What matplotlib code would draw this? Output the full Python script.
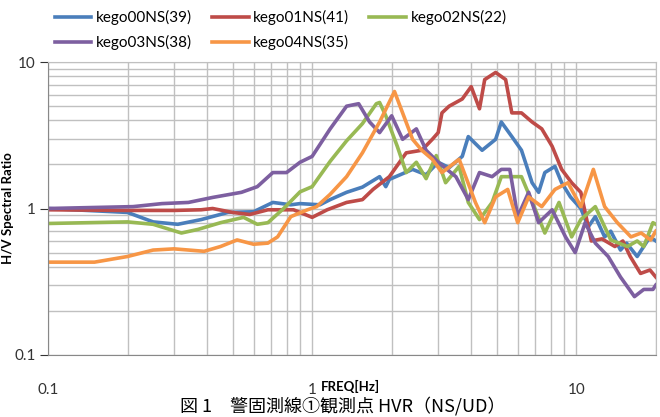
import numpy as np
import matplotlib
matplotlib.use("Agg")
import matplotlib.pyplot as plt
from matplotlib.ticker import LogLocator, NullFormatter, FixedLocator

plt.rcParams['font.family'] = ['Lato', 'DejaVu Sans', 'Noto Sans CJK JP']

f00 = [0.1, 0.2, 0.25, 0.31, 0.38, 0.48, 0.6, 0.71, 0.83, 0.9, 1.07, 1.17, 1.35, 1.55, 1.8, 1.9, 1.96,
       2.4, 2.7, 3.0, 3.3, 3.7, 3.9, 4.4, 4.95, 5.2, 5.7, 6.2, 6.8, 7.2, 7.6, 8.3, 8.8, 9.5, 10.4,
       11.1, 11.8, 12.8, 13.5, 14.7, 15.5, 17.0, 18.0, 19.0, 20.0]
v00 = [1.0, 0.94, 0.81, 0.78, 0.84, 0.94, 0.95, 1.1, 1.06, 1.08, 1.06, 1.15, 1.29, 1.4, 1.65, 1.41, 1.58,
       1.85, 1.7, 2.07, 1.9, 2.27, 3.1, 2.5, 2.97, 3.9, 3.1, 2.5, 1.5, 1.29, 1.76, 1.94, 1.5, 1.2, 1.0,
       0.75, 0.88, 0.64, 0.7, 0.52, 0.58, 0.47, 0.55, 0.64, 0.6]

f01 = [0.1, 0.2, 0.3, 0.38, 0.42, 0.5, 0.58, 0.68, 0.85, 1.0, 1.14, 1.35, 1.55, 1.7, 1.96, 2.27,
       2.6, 2.85, 3.0, 3.1, 3.3, 3.7, 4.0, 4.3, 4.5, 4.95, 5.4, 5.7, 6.2, 6.8, 7.4, 8.1, 8.8, 9.6,
       10.4, 11.4, 12.5, 14.0, 15.0, 16.0, 17.5, 19.0, 20.0]
v01 = [0.98, 0.97, 0.97, 0.98, 1.0, 0.94, 0.91, 0.98, 0.98, 0.87, 0.98, 1.1, 1.15, 1.35, 1.65, 2.4,
       2.5, 2.97, 3.3, 4.5, 5.0, 5.6, 6.8, 4.8, 7.6, 8.5, 7.6, 4.5, 4.5, 3.9, 3.5, 2.66, 1.85, 1.5,
       1.29, 0.6, 0.62, 0.55, 0.6, 0.47, 0.36, 0.38, 0.34]

f02 = [0.1, 0.2, 0.25, 0.32, 0.37, 0.45, 0.55, 0.62, 0.68, 0.78, 0.9, 1.0, 1.17, 1.35, 1.55, 1.75,
       1.8, 1.9, 2.1, 2.27, 2.48, 2.7, 2.95, 3.2, 3.6, 3.9, 4.3, 4.8, 5.2, 5.7, 6.2, 7.0, 7.6, 8.6,
       9.6, 10.4, 11.8, 13.5, 15.6, 17.0, 18.0, 19.5, 20.0]
v02 = [0.79, 0.81, 0.78, 0.68, 0.72, 0.8, 0.87, 0.78, 0.8, 1.0, 1.3, 1.41, 2.1, 2.9, 3.8, 5.2,
       5.3, 4.3, 2.66, 1.76, 2.07, 1.6, 2.3, 1.5, 1.94, 1.1, 0.84, 1.1, 1.65, 1.65, 1.65, 0.98, 0.68, 1.1,
       0.64, 0.84, 1.03, 0.61, 0.55, 0.6, 0.55, 0.8, 0.78]

f03 = [0.1, 0.21, 0.27, 0.34, 0.42, 0.54, 0.62, 0.71, 0.8, 0.9, 1.0, 1.17, 1.35, 1.5, 1.65, 1.8,
       2.0, 2.2, 2.48, 2.7, 3.0, 3.5, 3.9, 4.3, 4.8, 5.2, 5.6, 6.0, 6.6, 7.2, 8.1, 9.1, 9.9, 10.8,
       11.8, 13.2, 14.7, 16.6, 18.0, 19.5, 20.0]
v03 = [1.0, 1.03, 1.08, 1.1, 1.19, 1.29, 1.41, 1.76, 1.76, 2.07, 2.27, 3.5, 5.0, 5.2, 3.9, 3.3,
       4.3, 2.97, 3.5, 2.5, 2.07, 1.65, 1.15, 1.76, 1.65, 1.85, 1.85, 0.88, 1.29, 0.8, 0.98, 0.64, 0.5, 0.8,
       0.58, 0.47, 0.34, 0.25, 0.28, 0.28, 0.3]

f04 = [0.1, 0.15, 0.2, 0.25, 0.3, 0.39, 0.45, 0.52, 0.6, 0.68, 0.74, 0.83, 0.96, 1.04, 1.17, 1.35,
       1.55, 1.8, 2.05, 2.2, 2.4, 2.6, 2.85, 3.1, 3.6, 4.15, 4.5, 4.95, 5.5, 6.0, 6.6, 7.4, 8.3, 9.3,
       10.4, 11.6, 12.8, 14.3, 16.1, 17.6, 19.1, 20.0]
v04 = [0.43, 0.43, 0.47, 0.52, 0.53, 0.51, 0.55, 0.61, 0.57, 0.58, 0.64, 0.88, 0.98, 1.03, 1.25, 1.65,
       2.4, 3.9, 6.3, 4.5, 2.97, 2.5, 2.17, 1.76, 2.17, 1.1, 0.8, 1.2, 1.35, 0.8, 1.2, 1.03, 1.35, 1.5,
       1.03, 1.85, 1.03, 0.8, 0.64, 0.68, 0.61, 0.7]

labels = ["kego00NS(39)", "kego01NS(41)", "kego02NS(22)", "kego03NS(38)", "kego04NS(35)"]
colors = ["#4A7EBB", "#BE4B48", "#98B954", "#7D5FA0", "#F79646"]

fig = plt.figure(figsize=(6.6, 4.17), dpi=100)
ax = fig.add_axes([0.0727, 0.149, 0.921, 0.702])

lines = []
for f, v, lab, c in zip([f00, f01, f02, f03, f04], [v00, v01, v02, v03, v04], labels, colors):
    ln, = ax.plot(f, v, color=c, lw=2.6, label=lab)
    lines.append(ln)

ax.set_xscale("log")
ax.set_yscale("log")
ax.set_xlim(0.1, 20)
ax.set_ylim(0.1, 10)
ax.xaxis.set_major_locator(FixedLocator([0.1, 1, 10]))
ax.yaxis.set_major_locator(FixedLocator([0.1, 1, 10]))
ax.set_xticklabels(["0.1", "1", "10"])
ax.set_yticklabels(["0.1", "1", "10"])
ax.xaxis.set_minor_locator(LogLocator(base=10, subs=np.arange(2, 10)))
ax.yaxis.set_minor_locator(LogLocator(base=10, subs=np.arange(2, 10)))
ax.xaxis.set_minor_formatter(NullFormatter())
ax.yaxis.set_minor_formatter(NullFormatter())
ax.grid(which="both", color="#C0C0C0", lw=1.0)
ax.set_axisbelow(True)
ax.tick_params(axis="x", which="major", length=0, pad=20, labelsize=11, colors="#333333")
ax.tick_params(axis="y", which="major", length=6, direction="out", pad=3, labelsize=11, colors="#333333")
ax.tick_params(which="minor", length=0)
for s in ["top", "right"]:
    ax.spines[s].set_color("#C0C0C0")
for s in ["left", "bottom"]:
    ax.spines[s].set_color("#888888")

ax.set_ylabel("H/V Spectral Ratio", fontsize=9.5, fontweight="bold", labelpad=0)
ax.set_xlabel("FREQ[Hz]", fontsize=9.5, fontweight="bold", va="center")
ax.xaxis.set_label_coords(0.497, -0.108)

# row-major legend order: 00 01 02 / 03 04
order = [0, 3, 1, 4, 2]
fig.legend([lines[i] for i in order], [labels[i] for i in order],
           loc="upper left", bbox_to_anchor=(0.062, 1.008), ncol=3, frameon=False,
           fontsize=11, handlelength=2.4, handletextpad=0.3, columnspacing=1.3,
           labelspacing=0.65)

fig.text(0.52, 0.003, "図 1　警固測線①観測点 HVR（NS/UD）", ha="center", va="bottom",
         fontsize=13, family=["Noto Sans CJK JP", "DejaVu Sans"])

fig.savefig("out.png", dpi=100)
